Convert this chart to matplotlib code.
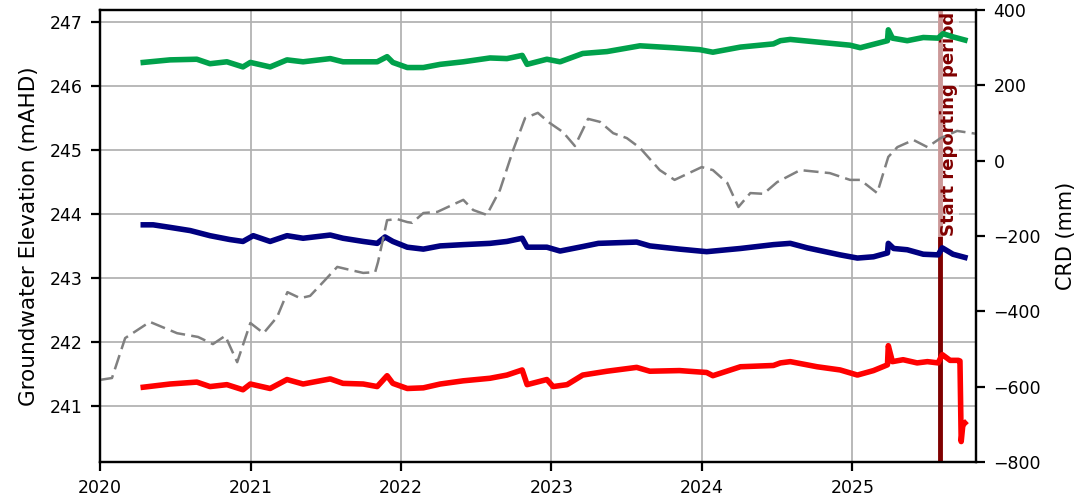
import pandas as pd
import matplotlib
matplotlib.use('Agg')
import matplotlib.pyplot as plt
import matplotlib.dates as mdates

# groundwater elevation (mAHD)
green_dates = ['2020-04-15', '2020-06-19', '2020-08-23', '2020-09-24', '2020-11-04', '2020-12-13',
               '2020-12-31', '2021-02-17', '2021-03-30', '2021-05-08', '2021-07-13', '2021-08-13',
               '2021-10-01', '2021-11-04', '2021-11-28', '2021-12-12', '2022-01-16', '2022-02-24',
               '2022-04-06', '2022-06-01', '2022-08-05', '2022-09-15', '2022-10-22', '2022-11-03',
               '2022-12-21', '2023-01-22', '2023-03-18', '2023-05-16', '2023-08-04', '2023-10-23',
               '2023-12-27', '2024-01-28', '2024-04-04', '2024-06-23', '2024-07-10', '2024-08-03',
               '2024-10-22', '2024-12-26', '2025-01-20', '2025-03-27', '2025-03-29', '2025-04-08',
               '2025-05-14', '2025-06-22', '2025-07-28', '2025-08-09', '2025-09-02', '2025-10-01']
green_vals = [246.37, 246.41, 246.42, 246.35, 246.38, 246.30,
              246.37, 246.30, 246.41, 246.38, 246.43, 246.38,
              246.38, 246.38, 246.46, 246.37, 246.29, 246.29,
              246.34, 246.38, 246.44, 246.43, 246.48, 246.34,
              246.42, 246.38, 246.51, 246.54, 246.63, 246.60,
              246.57, 246.53, 246.61, 246.66, 246.71, 246.73,
              246.68, 246.64, 246.60, 246.71, 246.88, 246.75,
              246.71, 246.76, 246.75, 246.82, 246.77, 246.72]

blue_dates = ['2020-04-15', '2020-05-09', '2020-06-19', '2020-08-07', '2020-09-24', '2020-11-11',
              '2020-12-13', '2021-01-07', '2021-02-17', '2021-03-30', '2021-05-08', '2021-07-13',
              '2021-08-13', '2021-10-01', '2021-11-04', '2021-11-23', '2021-12-12', '2022-01-16',
              '2022-02-24', '2022-04-06', '2022-06-01', '2022-08-05', '2022-09-15', '2022-10-22',
              '2022-11-03', '2022-12-21', '2023-01-22', '2023-03-18', '2023-04-25', '2023-07-27',
              '2023-08-28', '2023-11-08', '2024-01-13', '2024-04-04', '2024-06-23', '2024-08-03',
              '2024-09-13', '2024-12-02', '2025-01-13', '2025-02-21', '2025-03-27', '2025-03-29',
              '2025-04-11', '2025-05-14', '2025-06-22', '2025-07-28', '2025-08-07', '2025-09-02',
              '2025-10-01']
blue_vals = [243.83, 243.83, 243.79, 243.74, 243.66, 243.60,
             243.57, 243.66, 243.57, 243.66, 243.62, 243.67,
             243.62, 243.57, 243.54, 243.64, 243.57, 243.48,
             243.45, 243.50, 243.52, 243.54, 243.57, 243.62,
             243.48, 243.48, 243.42, 243.49, 243.54, 243.56,
             243.50, 243.45, 243.41, 243.46, 243.52, 243.54,
             243.47, 243.36, 243.31, 243.33, 243.39, 243.54,
             243.46, 243.44, 243.37, 243.36, 243.47, 243.37,
             243.32]

red_dates = ['2020-04-15', '2020-06-19', '2020-08-23', '2020-09-24', '2020-11-04', '2020-12-13',
             '2020-12-31', '2021-02-17', '2021-03-30', '2021-05-08', '2021-07-13', '2021-08-13',
             '2021-10-01', '2021-11-04', '2021-11-28', '2021-12-12', '2022-01-16', '2022-02-24',
             '2022-04-06', '2022-06-01', '2022-08-05', '2022-09-15', '2022-10-22', '2022-11-03',
             '2022-12-21', '2023-01-05', '2023-02-08', '2023-03-18', '2023-05-16', '2023-07-27',
             '2023-08-28', '2023-11-08', '2024-01-13', '2024-01-28', '2024-04-04', '2024-06-23',
             '2024-07-10', '2024-08-03', '2024-10-07', '2024-12-02', '2025-01-13', '2025-02-21',
             '2025-03-27', '2025-03-29', '2025-04-08', '2025-05-04', '2025-06-07', '2025-07-02',
             '2025-07-28', '2025-08-07', '2025-08-26', '2025-09-15', '2025-09-19', '2025-09-22',
             '2025-09-26', '2025-10-01']
red_vals = [241.29, 241.34, 241.37, 241.30, 241.33, 241.25,
            241.34, 241.27, 241.41, 241.34, 241.42, 241.35,
            241.34, 241.30, 241.47, 241.35, 241.27, 241.28,
            241.34, 241.39, 241.43, 241.48, 241.56, 241.33,
            241.41, 241.30, 241.33, 241.48, 241.54, 241.60,
            241.54, 241.55, 241.52, 241.47, 241.61, 241.63,
            241.67, 241.69, 241.61, 241.56, 241.48, 241.55,
            241.64, 241.94, 241.69, 241.72, 241.67, 241.69,
            241.67, 241.80, 241.71, 241.71, 241.70, 240.44,
            240.70, 240.73]

# cumulative rainfall departure (mm), right axis
crd_dates = ['2020-01-01', '2020-01-30', '2020-03-02', '2020-05-01', '2020-07-06', '2020-08-26',
             '2020-10-01', '2020-10-31', '2020-11-29', '2020-12-31', '2021-02-01', '2021-03-06',
             '2021-03-31', '2021-05-01', '2021-05-25', '2021-06-26', '2021-07-30', '2021-08-30',
             '2021-10-01', '2021-10-30', '2021-11-06', '2021-11-28', '2021-12-22', '2022-01-16',
             '2022-01-28', '2022-02-24', '2022-03-30', '2022-06-01', '2022-06-25', '2022-07-28',
             '2022-08-29', '2022-09-30', '2022-10-29', '2022-11-29', '2022-12-28', '2023-01-29',
             '2023-02-27', '2023-03-31', '2023-04-29', '2023-05-31', '2023-07-03', '2023-08-04',
             '2023-09-21', '2023-10-27', '2024-01-01', '2024-01-28', '2024-03-03', '2024-03-30',
             '2024-04-28', '2024-05-30', '2024-07-02', '2024-08-27', '2024-11-07', '2024-12-26',
             '2025-01-20', '2025-03-02', '2025-03-29', '2025-04-20', '2025-05-29', '2025-07-02',
             '2025-08-03', '2025-09-12', '2025-10-31']
crd_vals = [-582, -577, -471, -428, -458, -468,
            -487, -465, -535, -431, -458, -415,
            -349, -365, -359, -322, -282, -290,
            -298, -296, -269, -158, -155, -163,
            -165, -139, -136, -104, -131, -144,
            -78, 28, 113, 127, 100, 76,
            39, 111, 103, 73, 60, 34,
            -25, -51, -17, -25, -59, -123,
            -86, -88, -57, -25, -33, -51,
            -51, -86, 10, 36, 55, 36,
            60, 79, 71]

report_start = '2025-08-01'
x_range = ['2020-01-01', '2025-10-28']

plt.rcParams['font.size'] = 12.5

fig = plt.figure(figsize=(10.78, 5.03), dpi=100)
ax = fig.add_axes([0.0928, 0.0815, 0.8126, 0.8986])
ax2 = ax.twinx()

ax.plot(pd.to_datetime(green_dates), green_vals, color='#00a14b', lw=4, zorder=5)
ax.plot(pd.to_datetime(blue_dates), blue_vals, color='#000080', lw=4, zorder=5)
ax.plot(pd.to_datetime(red_dates), red_vals, color='#ff0000', lw=4, zorder=5)

ax.axvline(pd.Timestamp(report_start), color='#800000', lw=3.5, zorder=3)
ax.text(pd.Timestamp(report_start), 247.16, 'Start reporting period', rotation=90,
        ha='left', va='top', color='#800000', fontweight='bold', fontsize=13,
        bbox=dict(facecolor='white', edgecolor='none', alpha=0.6, pad=1), zorder=4)

ax2.plot(pd.to_datetime(crd_dates), crd_vals, color='grey', lw=1.8, ls=(0, (6, 2.5)))

ax.set_xlim(pd.to_datetime(x_range))
ax.set_ylim(240.12, 247.19)
ax2.set_ylim(-800, 400)
ax.xaxis.set_major_locator(mdates.YearLocator())
ax.xaxis.set_major_formatter(mdates.DateFormatter('%Y'))

ax.grid(True, color='#b0b0b0', lw=1.25)
ax.set_ylabel('Groundwater Elevation (mAHD)', fontsize=15.5, labelpad=8)
ax2.set_ylabel('CRD (mm)', fontsize=15, labelpad=11)

for a in (ax, ax2):
    for s in a.spines.values():
        s.set_linewidth(1.6)
    a.tick_params(width=1.6, length=6.5, pad=6, labelsize=12.5)

fig.savefig('out.png', dpi=100)
